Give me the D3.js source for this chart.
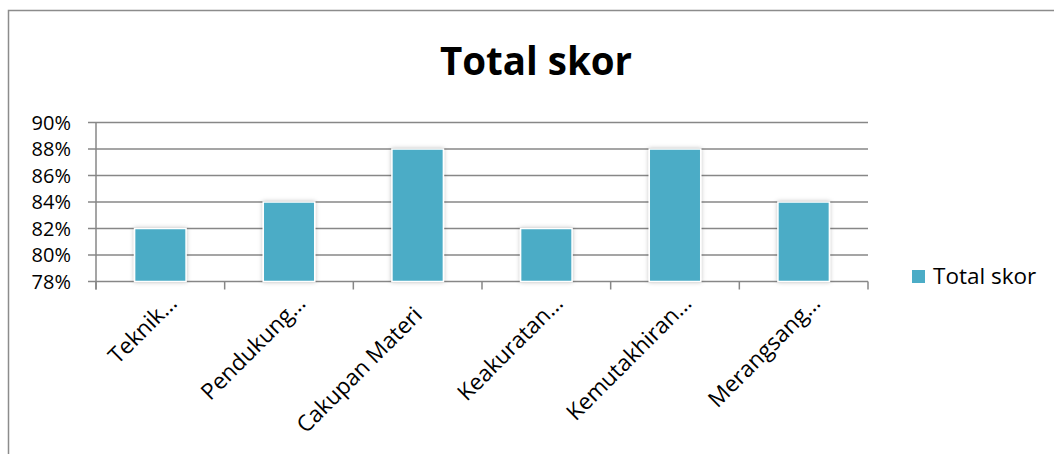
<!DOCTYPE html>
<html>
<head>
<meta charset="utf-8">
<script src="https://cdn.jsdelivr.net/npm/d3@7"></script>
<style>
  body { margin: 0; background: #fff; }
  svg { display: block; font-family: "Open Sans", sans-serif; }
</style>
</head>
<body>
<svg id="chart" width="1054" height="454"></svg>
<script>
const categories = ["Teknik…", "Pendukung…", "Cakupan Materi", "Keakuratan…", "Kemutakhiran…", "Merangsang…"];
const values = [0.82, 0.84, 0.88, 0.82, 0.88, 0.84];
const yTicks = [0.78, 0.80, 0.82, 0.84, 0.86, 0.88, 0.90];
const seriesName = "Total skor";
const barColor = "#4BACC6";

const svg = d3.select("#chart");
const W = 1054, H = 454;
const margin = { top: 122.5, left: 96, right: W - 868, bottom: H - 281.5 };

// outer chart border (runs off the right and bottom edge)
svg.append("rect")
  .attr("x", 8.5).attr("y", 10.5)
  .attr("width", 1100).attr("height", 500)
  .attr("fill", "none").attr("stroke", "#8c8c8c").attr("stroke-width", 1.5);

const defs = svg.append("defs");
const f = defs.append("filter").attr("id", "shadow")
  .attr("x", "-20%").attr("y", "-20%").attr("width", "140%").attr("height", "140%");
f.append("feDropShadow").attr("dx", 0).attr("dy", 0).attr("stdDeviation", 2)
  .attr("flood-color", "#000").attr("flood-opacity", 0.25);

const x = d3.scaleBand()
  .domain(categories)
  .range([margin.left, W - margin.right])
  .paddingInner(0.6).paddingOuter(0.3);

const y = d3.scaleLinear()
  .domain([0.78, 0.90])
  .range([H - margin.bottom, margin.top]);

// gridlines
svg.append("g")
  .selectAll("line")
  .data(yTicks)
  .join("line")
  .attr("x1", margin.left - 8).attr("x2", W - margin.right)
  .attr("y1", d => y(d)).attr("y2", d => y(d))
  .attr("stroke", "#878787").attr("stroke-width", 1.5);

// y axis line
svg.append("line")
  .attr("x1", margin.left).attr("x2", margin.left)
  .attr("y1", margin.top).attr("y2", y(0.78) + 8)
  .attr("stroke", "#878787").attr("stroke-width", 1.5);

// y labels
svg.append("g")
  .selectAll("text")
  .data(yTicks)
  .join("text")
  .attr("x", margin.left - 25)
  .attr("y", d => y(d))
  .attr("dy", "0.36em")
  .attr("text-anchor", "end")
  .attr("font-size", 20)
  .attr("fill", "#000")
  .text(d3.format(".0%"));

// x tick marks at band boundaries
const bounds = d3.range(categories.length + 1).map(i => margin.left + i * (W - margin.right - margin.left) / categories.length);
svg.append("g")
  .selectAll("line")
  .data(bounds)
  .join("line")
  .attr("x1", d => d).attr("x2", d => d)
  .attr("y1", y(0.78)).attr("y2", y(0.78) + 8)
  .attr("stroke", "#878787").attr("stroke-width", 1.5);

// bars
svg.append("g")
  .selectAll("rect")
  .data(values)
  .join("rect")
  .attr("x", (d, i) => x(categories[i]))
  .attr("width", x.bandwidth())
  .attr("y", d => y(d))
  .attr("height", d => y(0.78) - y(d))
  .attr("fill", barColor)
  .attr("stroke", "#fff").attr("stroke-width", 1.5)
  .attr("filter", "url(#shadow)");

// rotated category labels
svg.append("g")
  .selectAll("text")
  .data(categories)
  .join("text")
  .attr("transform", d => `translate(${x(d) + x.bandwidth() / 2 + 18},${y(0.78) + 23}) rotate(-45)`)
  .attr("dx", d => d.endsWith("…") ? 0 : -17)
  .attr("text-anchor", "end")
  .attr("font-size", 22.5)
  .attr("fill", "#000")
  .text(d => d);

// title
svg.append("text")
  .attr("x", 536).attr("y", 75)
  .attr("text-anchor", "middle")
  .attr("font-size", 38.5)
  .attr("font-weight", "bold")
  .attr("fill", "#000")
  .text(seriesName);

// legend
const lg = svg.append("g").attr("transform", "translate(912,270)");
lg.append("rect").attr("width", 13).attr("height", 13).attr("fill", barColor);
lg.append("text").attr("x", 21).attr("y", 14)
  .attr("font-size", 22.5).attr("fill", "#000").text(seriesName);
</script>
</body>
</html>
